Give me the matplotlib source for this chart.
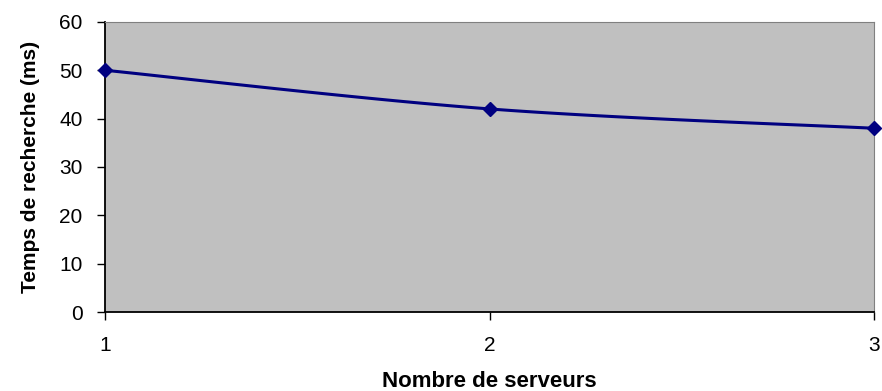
import numpy as np
import matplotlib.pyplot as plt

serveurs = [1, 2, 3]
temps_ms = [50, 42, 38]
yticks = [0, 10, 20, 30, 40, 50, 60]

plt.rcParams['font.family'] = ['Liberation Sans', 'DejaVu Sans']


def smooth(x, y, n=60):
    # Catmull-Rom style Bezier through the points (like a smoothed line)
    x = np.asarray(x, float)
    y = np.asarray(y, float)
    px = np.concatenate([[x[0]], x, [x[-1]]])
    py = np.concatenate([[y[0]], y, [y[-1]]])
    xs, ys = [], []
    t = np.linspace(0, 1, n)
    for i in range(1, len(px) - 2):
        p0 = np.array([px[i], py[i]])
        p3 = np.array([px[i + 1], py[i + 1]])
        c1 = p0 + (np.array([px[i + 1], py[i + 1]]) - np.array([px[i - 1], py[i - 1]])) / 6
        c2 = p3 - (np.array([px[i + 2], py[i + 2]]) - np.array([px[i], py[i]])) / 6
        b = ((1 - t) ** 3)[:, None] * p0 + (3 * (1 - t) ** 2 * t)[:, None] * c1 \
            + (3 * (1 - t) * t ** 2)[:, None] * c2 + (t ** 3)[:, None] * p3
        xs.extend(b[:, 0])
        ys.extend(b[:, 1])
    return xs, ys


fig = plt.figure(figsize=(8.82, 3.91), dpi=100)
ax = fig.add_axes([0.119, 0.202, 0.872, 0.742])
ax.set_facecolor('#c0c0c0')

sx, sy = smooth(serveurs, temps_ms)
ax.plot(sx, sy, color='#000080', lw=2.2, clip_on=False, zorder=3)
ax.plot(serveurs, temps_ms, ls='none', marker='D', ms=7, color='#000080',
        clip_on=False, zorder=4)

ax.set_xlim(1, 3)
ax.set_ylim(0, 60)
ax.set_xticks(serveurs)
ax.set_yticks(yticks)
ax.tick_params(axis='both', labelsize=15, length=6, width=1, color='black')
ax.tick_params(axis='y', pad=10)
ax.tick_params(axis='x', pad=11)

for s in ['top', 'right']:
    ax.spines[s].set_color('#808080')
for s in ['left', 'bottom']:
    ax.spines[s].set_color('black')
    ax.spines[s].set_linewidth(1.3)

ax.set_xlabel('Nombre de serveurs', fontsize=16, fontweight='bold', labelpad=12)
ax.set_ylabel('Temps de recherche (ms)', fontsize=15, fontweight='bold', labelpad=14)

fig.savefig('out.png', dpi=100)
